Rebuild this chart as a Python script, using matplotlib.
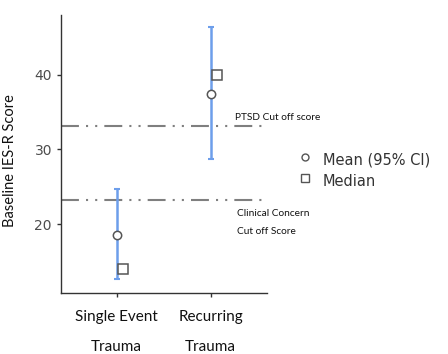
import matplotlib
matplotlib.use("Agg")
import matplotlib.pyplot as plt

# Data
groups = ["Single Event\nTrauma", "Recurring\nTrauma"]
means = [18.5, 37.45]
ci_low = [12.6, 28.75]
ci_high = [24.65, 46.4]
medians = [13.9, 40.0]
yticks = [20, 30, 40]
ptsd_cutoff = 33.1
clinical_cutoff = 23.2

label_font = ["Lato", "DejaVu Sans"]

fig = plt.figure(figsize=(4.48, 3.54), dpi=100)
ax = fig.add_axes([0.1362, 0.1723, 0.596 - 0.1362, 0.9576 - 0.1723])

x = [1, 2]
err_lo = [m - l for m, l in zip(means, ci_low)]
err_hi = [h - m for m, h in zip(means, ci_high)]

# Cut-off reference lines (dash-dot-dot)
for yv in (ptsd_cutoff, clinical_cutoff):
    ax.axhline(yv, color="#7f7f7f", lw=1.5, dashes=(8.6, 3.4, 1, 3.4, 1, 3.4), zorder=1)

ax.errorbar(x, means, yerr=[err_lo, err_hi], fmt="none", ecolor="#6d9eeb",
            elinewidth=1.8, capsize=2.5, capthick=1.5, zorder=2)
ax.plot(x, means, "o", ms=6, mfc="white", mec="#555555", mew=1.1, zorder=3)
ax.plot([xi + 0.065 for xi in x], medians, "s", ms=6.5, mfc="white", mec="#555555",
        mew=1.1, zorder=3)

ax.set_xlim(0.41, 2.6)
ax.set_ylim(10.74, 48.05)
ax.set_yticks(yticks)
ax.set_xticks(x)
ax.set_xticklabels(groups, fontsize=11, family=label_font, linespacing=2.45,
                   color="#111111")
ax.tick_params(axis="y", labelsize=10, labelcolor="#4d4d4d", color="#333333",
               length=3, width=1)
ax.tick_params(axis="x", pad=9, color="#333333", length=3, width=1)
for s in ("top", "right"):
    ax.spines[s].set_visible(False)
for s in ("left", "bottom"):
    ax.spines[s].set_color("#333333")
    ax.spines[s].set_linewidth(1.0)
ax.set_ylabel("Baseline IES-R Score", fontsize=10.5, family=label_font, color="#111111")
ax.yaxis.set_label_coords(-0.214, 0.478)

# Annotations for the cut-off lines
ann = dict(fontsize=7.3, va="center", color="#111111", family=label_font)
fig.text(235 / 448, 1 - 117 / 354, "PTSD Cut off score", **ann)
fig.text(237 / 448, 1 - 214 / 354, "Clinical Concern", **ann)
fig.text(237 / 448, 1 - 231 / 354, "Cut off Score", **ann)

# Legend
fig.lines.append(plt.Line2D([305 / 448], [1 - 157 / 354], marker="o", ms=5,
                            mfc="white", mec="#555555", mew=1.0,
                            transform=fig.transFigure, figure=fig))
fig.lines.append(plt.Line2D([305 / 448], [1 - 178 / 354], marker="s", ms=6,
                            mfc="white", mec="#555555", mew=1.0,
                            transform=fig.transFigure, figure=fig))
fig.text(323 / 448, 1 - 160 / 354, "Mean (95% CI)", fontsize=10.5, va="center",
         color="#333333")
fig.text(323 / 448, 1 - 181 / 354, "Median", fontsize=10.5, va="center",
         color="#333333")

fig.savefig("out.png", dpi=100)
